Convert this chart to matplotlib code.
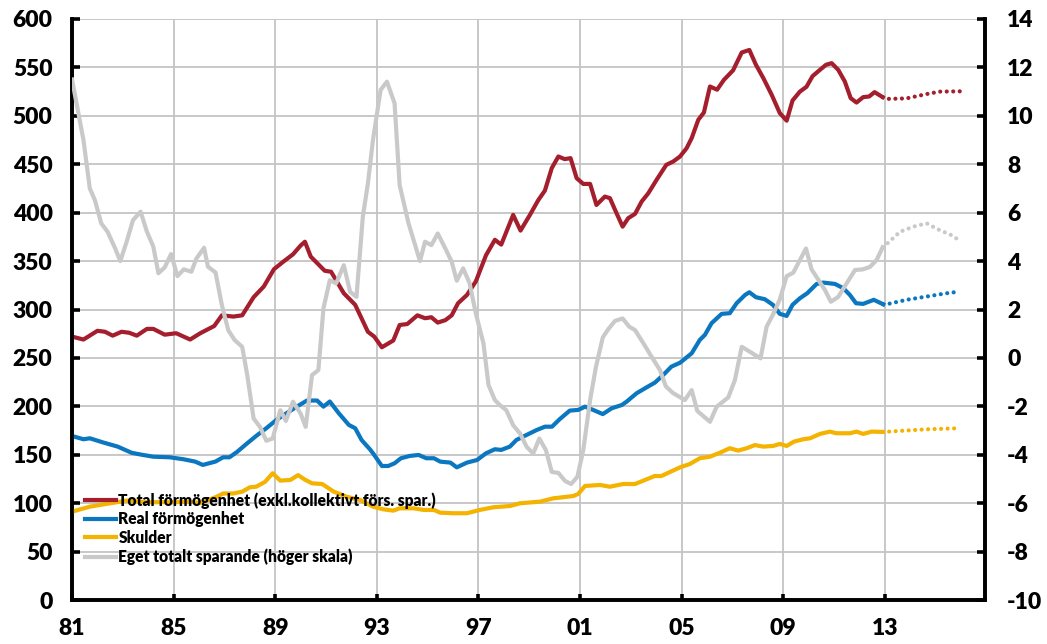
import matplotlib
matplotlib.use("Agg")
import matplotlib.pyplot as plt

plt.rcParams['font.family'] = ['Lato', 'DejaVu Sans']
plt.rcParams['font.weight'] = 'heavy'
plt.rcParams['axes.unicode_minus'] = False

# --- data (year as decimal, left scale) ---
tot_x = [1981.0, 1981.45, 1982.0, 1982.3, 1982.6, 1982.95, 1983.25, 1983.55, 1983.95, 1984.2,
         1984.65, 1985.1, 1985.65, 1986.05, 1986.6, 1986.9, 1987.35, 1987.7, 1988.15, 1988.55,
         1988.95, 1989.3, 1989.7, 1990.0, 1990.17, 1990.4, 1990.95, 1991.2, 1991.7, 1992.15,
         1992.65, 1992.9, 1993.2, 1993.65, 1993.9, 1994.2, 1994.6, 1994.9, 1995.15, 1995.4,
         1995.7, 1995.95, 1996.2, 1996.55, 1996.9, 1997.3, 1997.65, 1997.9, 1998.37, 1998.66,
         1999.03, 1999.36, 1999.62, 1999.89, 2000.15, 2000.4, 2000.63, 2000.87, 2001.13, 2001.4,
         2001.65, 2001.98, 2002.18, 2002.38, 2002.68, 2002.9, 2003.17, 2003.43, 2003.69, 2004.02,
         2004.4, 2004.67, 2004.94, 2005.2, 2005.4, 2005.66, 2005.88, 2006.12, 2006.4, 2006.67,
         2007.03, 2007.37, 2007.67, 2007.93, 2008.22, 2008.55, 2008.87, 2009.14, 2009.37, 2009.66,
         2009.92, 2010.16, 2010.45, 2010.69, 2010.91, 2011.17, 2011.43, 2011.66, 2011.89, 2012.15,
         2012.39, 2012.6, 2012.92]
tot_y = [272, 269, 278, 277, 273, 277, 276, 273, 280, 280,
         274, 275.5, 269, 275.5, 283, 294, 292.7, 294, 312.7, 323.7,
         341.6, 349, 357, 366, 370, 354.6, 340, 339, 316.8, 304.8,
         277, 272, 261, 268, 284, 285, 294, 291, 292, 286.5,
         289, 294, 306.5, 315, 329, 356, 372, 367, 397.7, 381.5,
         397.7, 413, 422.8, 446, 458, 455.3, 456.3, 435.6, 429.7, 429.7,
         408, 416.6, 415, 403, 385.6, 394.3, 398.8, 411.5, 420, 434,
         449.4, 452.8, 458, 466.6, 477, 495.9, 503.4, 530.3, 527, 537.2,
         547, 565.4, 568, 552.7, 539, 521.7, 502.8, 495, 515.8, 525,
         530, 541, 547.5, 552.7, 554.4, 547.5, 535.4, 518.3, 513.7, 519.3,
         520, 524.5, 519.3]
tot_fx = [2012.92, 2013.14, 2013.86, 2014.65, 2015.17, 2015.96]
tot_fy = [519.3, 517.5, 518, 522.5, 525, 525.3]

real_x = [1981.0, 1981.45, 1981.7, 1982.25, 1982.8, 1983.35, 1983.75, 1984.2, 1984.85, 1985.4,
          1985.85, 1986.15, 1986.65, 1986.95, 1987.2, 1987.5, 1987.9, 1988.25, 1988.65, 1989.05,
          1989.45, 1989.85, 1990.25, 1990.65, 1990.9, 1991.15, 1991.5, 1991.9, 1992.15, 1992.4,
          1992.75, 1992.9, 1993.2, 1993.45, 1993.7, 1993.95, 1994.3, 1994.65, 1994.95, 1995.25,
          1995.5, 1995.9, 1996.15, 1996.55, 1996.95, 1997.3, 1997.65, 1997.9, 1998.24, 1998.5,
          1998.9, 1999.3, 1999.62, 1999.9, 2000.2, 2000.6, 2000.93, 2001.2, 2001.52, 2001.9,
          2002.25, 2002.65, 2002.84, 2003.23, 2003.63, 2003.95, 2004.28, 2004.6, 2004.94, 2005.4,
          2005.72, 2005.92, 2006.18, 2006.58, 2006.9, 2007.17, 2007.5, 2007.67, 2007.93, 2008.28,
          2008.6, 2008.87, 2009.14, 2009.37, 2009.66, 2009.95, 2010.32, 2010.58, 2011.04, 2011.37,
          2011.63, 2011.87, 2012.15, 2012.57, 2012.94]
real_y = [169.4, 166, 167, 162.5, 158.4, 152, 150, 148, 147.4, 145.3,
          142.9, 139.5, 143, 147.4, 147.4, 153, 161.9, 169.4, 177.4, 186,
          193, 199.7, 206, 206, 199.7, 205, 193, 180.8, 177.4, 165.3,
          155, 149.8, 138.4, 138.4, 141.2, 146.4, 148.8, 149.8, 146.4, 146.4,
          142.9, 141.9, 137, 141.9, 144.6, 151.5, 155.7, 155, 158.4, 165.3,
          170.5, 175.6, 179, 179, 186.7, 195.6, 196.3, 199.7, 196.3, 192,
          198, 201.4, 204.9, 213.5, 219.7, 224.5, 232.4, 241, 245, 254.8,
          268.6, 273.8, 285.8, 295.5, 296.2, 306.5, 315, 317.8, 312.7, 310.6,
          304.8, 295.5, 293.4, 304.8, 311.6, 316.8, 326.4, 327.8, 326.4, 322,
          315, 306.5, 305.8, 310, 305.4]
real_fx = [2012.94, 2013.14, 2013.86, 2014.65, 2015.44, 2015.96]
real_fy = [305.4, 305.8, 310, 313.4, 316.8, 318.5]

debt_x = [1981.0, 1981.7, 1982.5, 1983.15, 1984.0, 1985.0, 1985.7, 1986.05, 1986.7, 1986.95,
          1987.35, 1987.7, 1988.0, 1988.25, 1988.6, 1988.9, 1989.2, 1989.6, 1989.9, 1990.15,
          1990.45, 1990.85, 1991.3, 1991.8, 1992.35, 1992.85, 1993.25, 1993.65, 1993.9, 1994.45,
          1994.85, 1995.25, 1995.5, 1996.0, 1996.55, 1997.05, 1997.6, 1998.25, 1998.64, 1999.43,
          1999.95, 2000.74, 2000.93, 2001.2, 2001.79, 2002.18, 2002.7, 2003.17, 2003.63, 2003.95,
          2004.2, 2004.94, 2005.33, 2005.72, 2006.12, 2006.5, 2006.9, 2007.23, 2007.56, 2007.89,
          2008.22, 2008.61, 2008.87, 2009.14, 2009.43, 2009.79, 2010.06, 2010.45, 2010.84, 2011.1,
          2011.63, 2011.89, 2012.15, 2012.48, 2012.92]
debt_y = [91.2, 96.4, 99.9, 102.6, 101, 101, 101.5, 100, 106.7, 110,
          110, 111.9, 116.4, 117, 122, 130.9, 123.3, 124, 129, 124.6,
          120.5, 119.8, 112, 106.7, 103.3, 96.4, 93.7, 92.3, 94.7, 94.7,
          93, 93, 90.2, 89.6, 89.6, 93, 95.8, 97.1, 99.9, 101.6,
          105, 107.4, 109.5, 117.8, 118.8, 117, 119.8, 119.8, 124.7, 128.1,
          128, 137, 140.5, 146.4, 148, 152, 156.7, 154.3, 156.7, 160,
          158.4, 159.1, 161.2, 159.1, 163.6, 166, 167, 171.5, 173.9, 172.2,
          172.2, 173.9, 171.5, 173.9, 173.6]
debt_fx = [2012.92, 2013.14, 2014.65, 2015.96]
debt_fy = [173.6, 173.9, 176.3, 177.4]

# savings ratio, right scale
sav_x = [1981.0, 1981.45, 1981.7, 1981.9, 1982.15, 1982.4, 1982.7, 1982.9, 1983.15, 1983.4,
         1983.7, 1983.95, 1984.2, 1984.4, 1984.65, 1984.9, 1985.15, 1985.4, 1985.7, 1985.9,
         1986.2, 1986.35, 1986.65, 1986.9, 1987.15, 1987.4, 1987.7, 1987.9, 1988.15, 1988.4,
         1988.65, 1988.9, 1989.2, 1989.42, 1989.7, 1990.0, 1990.2, 1990.45, 1990.7, 1990.9,
         1991.15, 1991.4, 1991.7, 1991.95, 1992.2, 1992.45, 1992.65, 1992.85, 1993.15, 1993.4,
         1993.7, 1993.9, 1994.25, 1994.7, 1994.9, 1995.15, 1995.4, 1995.7, 1995.95, 1996.15,
         1996.4, 1996.65, 1996.9, 1997.2, 1997.4, 1997.65, 1997.85, 1998.1, 1998.37, 1998.64,
         1998.9, 1999.16, 1999.4, 1999.66, 1999.89, 2000.15, 2000.41, 2000.65, 2000.9, 2001.13,
         2001.4, 2001.63, 2001.9, 2002.11, 2002.38, 2002.68, 2002.94, 2003.17, 2003.5, 2003.82,
         2004.15, 2004.38, 2004.65, 2005.13, 2005.4, 2005.62, 2006.12, 2006.38, 2006.84, 2007.1,
         2007.37, 2007.76, 2008.11, 2008.35, 2008.61, 2008.87, 2009.14, 2009.4, 2009.66, 2009.9,
         2010.12, 2010.38, 2010.65, 2010.88, 2011.17, 2011.5, 2011.83, 2012.15, 2012.42, 2012.68,
         2012.92]
sav_y = [11.5, 9.0, 7.0, 6.52, 5.56, 5.21, 4.52, 4.0, 4.8, 5.69,
         6.04, 5.21, 4.6, 3.5, 3.74, 4.29, 3.38, 3.66, 3.56, 4.11,
         4.55, 3.77, 3.53, 2.18, 1.15, 0.74, 0.46, -0.71, -2.5, -2.85,
         -3.42, -3.33, -2.16, -2.6, -1.81, -2.3, -2.85, -0.71, -0.5, 2.05,
         3.21, 3.08, 3.83, 2.73, 2.52, 5.83, 7.21, 9.0, 11.07, 11.41,
         10.52, 7.14, 5.56, 4.0, 4.8, 4.66, 5.14, 4.52, 3.97, 3.19,
         3.7, 3.1, 1.84, 0.6, -1.12, -1.74, -1.95, -2.16, -2.78, -3.12,
         -3.67, -3.95, -3.33, -3.81, -4.71, -4.75, -5.08, -5.21, -4.91, -3.81,
         -1.74, -0.37, 0.85, 1.18, 1.53, 1.63, 1.29, 1.15, 0.6, 0.05,
         -0.5, -1.17, -1.44, -1.74, -1.33, -2.19, -2.64, -2.02, -1.63, -0.92,
         0.46, 0.21, -0.02, 1.29, 1.81, 2.42, 3.38, 3.52, 4.04, 4.52,
         3.66, 3.24, 2.8, 2.32, 2.52, 3.08, 3.63, 3.66, 3.76, 4.04,
         4.57]
sav_fx = [2012.92, 2013.14, 2013.6, 2014.12, 2014.65, 2015.1, 2015.63, 2015.96]
sav_fy = [4.57, 4.76, 5.21, 5.42, 5.56, 5.31, 5.07, 4.84]

labels = ['Total förmögenhet (exkl.kollektivt förs. spar.)', 'Real förmögenhet',
          'Skulder', 'Eget totalt sparande (höger skala)']
xtick_years = [1981, 1985, 1989, 1993, 1997, 2001, 2005, 2009, 2013]
xtick_labels = ['81', '85', '89', '93', '97', '01', '05', '09', '13']

RED = '#a41e2d'
BLUE = '#0a77c0'
YELLOW = '#f4b300'
GRAY = '#c9c9c9'
LW = 3.0
DOTS = (0.01, 1.55)

fig = plt.figure(figsize=(10.47, 6.44), dpi=100)
ax = fig.add_axes([0.0688, 0.0683, 0.872, 0.9022])
ax2 = ax.twinx()

lines = []
for xs, ys, fx, fy, c in [(tot_x, tot_y, tot_fx, tot_fy, RED),
                          (real_x, real_y, real_fx, real_fy, BLUE),
                          (debt_x, debt_y, debt_fx, debt_fy, YELLOW)]:
    l, = ax.plot(xs, ys, color=c, lw=LW, solid_joinstyle='round', zorder=3)
    ax.plot(fx, fy, color=c, lw=LW, dashes=DOTS, dash_capstyle='round', zorder=3)
    lines.append(l)
l, = ax2.plot(sav_x, sav_y, color=GRAY, lw=LW, solid_joinstyle='round', zorder=3)
ax2.plot(sav_fx, sav_fy, color=GRAY, lw=LW, dashes=DOTS, dash_capstyle='round', zorder=3)
lines.append(l)

ax.set_xlim(1981, 2016.95)
ax.set_ylim(0, 600)
ax2.set_ylim(-10, 14)
ax.set_yticks(range(0, 601, 50))
ax2.set_yticks(range(-10, 15, 2))
ax.set_xticks(xtick_years)
ax.set_xticklabels(xtick_labels)

ax.grid(True, color='#c4c4c4', lw=1.3)
ax.set_axisbelow(True)

for a in (ax, ax2):
    a.spines['top'].set_visible(False)
    for s in ('left', 'right', 'bottom'):
        a.spines[s].set_linewidth(2.6)
        a.spines[s].set_color('black')
    a.tick_params(direction='in', length=6, width=2.6, labelsize=16.5, pad=8)
ax.tick_params(axis='x', length=4, pad=13)
ax.tick_params(axis='y', pad=14)
ax2.tick_params(axis='y', pad=16)

for t in ax.get_xticklabels() + ax.get_yticklabels() + ax2.get_yticklabels():
    t.set_fontweight('heavy')

leg = ax2.legend(lines, labels, loc='upper left', bbox_to_anchor=(0.0142, 0.186),
                 frameon=False, fontsize=11.2, handlelength=2.0, handletextpad=0.15,
                 labelspacing=0.17, borderaxespad=0, borderpad=0)
for t in leg.get_texts():
    t.set_fontweight('heavy')

fig.savefig('out.png', dpi=100)
